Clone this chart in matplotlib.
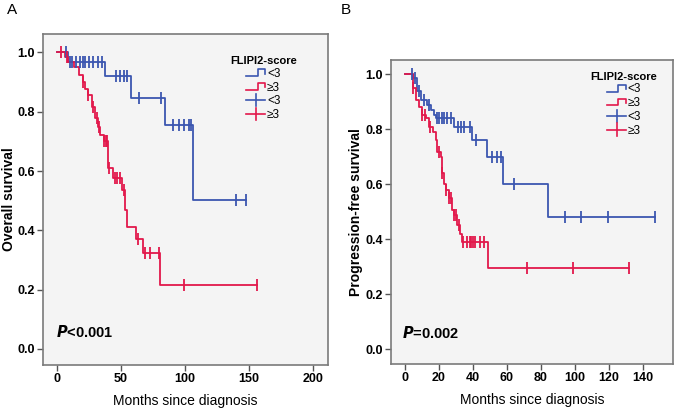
import numpy as np
import matplotlib
matplotlib.use("Agg")
import matplotlib.pyplot as plt
from matplotlib.lines import Line2D
from matplotlib.legend_handler import HandlerBase
from matplotlib import font_manager

# ---------------- data ----------------
# Panel A: Overall survival (step curves: event times and survival after the event)
a_low_t = [0, 8.5, 37.5, 58, 84, 106, 148]
a_low_s = [1.0, 0.968, 0.92, 0.846, 0.755, 0.503, 0.503]
a_low_cens = [7, 10, 12, 15, 18, 20, 22, 25, 28, 32, 35, 46, 49, 52, 55, 64, 81, 91, 95, 99, 103, 105, 140, 147.5]

a_high_t = [0, 6, 9, 13, 17, 20, 22, 24, 27, 30, 32, 34, 37, 40, 44, 51, 53, 54.5, 62, 67, 80.5, 156]
a_high_s = [1.0, 0.985, 0.968, 0.95, 0.925, 0.9, 0.875, 0.855, 0.815, 0.78, 0.75, 0.72, 0.70, 0.61, 0.577, 0.536, 0.47, 0.41, 0.37, 0.324, 0.216, 0.216]
a_high_cens = [3, 8, 20, 24, 28, 31, 33, 37, 38, 39, 41, 45, 47, 49, 52, 63, 69, 73, 80, 99, 156]

# Panel B: Progression-free survival
b_low_t = [0, 3.5, 5, 7, 9.4, 13, 15.3, 17, 18.2, 28.8, 39.5, 48, 57.6, 84, 147]
b_low_s = [1.0, 1.0, 0.985, 0.94, 0.905, 0.887, 0.87, 0.85, 0.84, 0.807, 0.76, 0.698, 0.60, 0.48, 0.48]
b_low_cens = [4, 6, 8, 11, 14, 19, 20, 22, 23, 25, 27, 31, 33, 35, 38, 42, 51, 54, 56.5, 64, 94, 103.5, 119.4, 147]

b_high_t = [0, 4.7, 6.5, 8.2, 10, 12.4, 14, 16.5, 18.2, 19, 21, 21.8, 23, 24, 26, 27.6, 29, 30.6, 32.4, 33.5, 49, 132]
b_high_s = [1.0, 0.95, 0.905, 0.88, 0.85, 0.84, 0.807, 0.79, 0.76, 0.716, 0.698, 0.64, 0.60, 0.578, 0.55, 0.505, 0.487, 0.45, 0.42, 0.39, 0.293, 0.293]
b_high_cens = [5, 10, 12, 15, 20, 22, 24, 26, 27, 29, 30, 32, 34, 36.5, 38, 39, 40, 41, 44, 46.5, 72, 99, 132]

a_xticks = [0, 50, 100, 150, 200]
b_xticks = [0, 20, 40, 60, 80, 100, 120, 140]
y_ticks = [0.0, 0.2, 0.4, 0.6, 0.8, 1.0]
legend_labels = ["<3", "\u22653", "<3", "\u22653"]

BLUE = "#3b56b0"
RED = "#e2184b"

names = {f.name for f in font_manager.fontManager.ttflist}
NARROW = "Liberation Sans Narrow" if "Liberation Sans Narrow" in names else "Liberation Sans"
FAM = [NARROW, "DejaVu Sans"]
FAM2 = ["Liberation Sans", "DejaVu Sans"]


class StepHandler(HandlerBase):
    def create_artists(self, legend, orig_handle, xdescent, ydescent, width, height, fontsize, trans):
        x0, x1 = -xdescent, -xdescent + width
        y0, y1 = -ydescent + height * 0.1, -ydescent + height * 0.9
        xm = x0 + width * 0.6
        xs = [x0, xm, xm, x1, x1]
        ys = [y0, y0, y1, y1, y0 + (y1 - y0) * 0.35]
        ln = Line2D(xs, ys, color=orig_handle.get_color(), lw=1.2, transform=trans)
        return [ln]


class CrossHandler(HandlerBase):
    def create_artists(self, legend, orig_handle, xdescent, ydescent, width, height, fontsize, trans):
        x0, x1 = -xdescent, -xdescent + width
        yc = -ydescent + height / 2
        xc = (x0 + x1) / 2
        h = Line2D([x0, x1], [yc, yc], color=orig_handle.get_color(), lw=1.2, transform=trans)
        v = Line2D([xc, xc], [yc - height * 0.75, yc + height * 0.75], color=orig_handle.get_color(), lw=1.2, transform=trans)
        return [h, v]


def step_value(t, s, x):
    idx = np.searchsorted(np.asarray(t), x, side="right") - 1
    return np.asarray(s)[idx]


def draw_curve(ax, t, s, cens, color):
    ax.step(t, s, where="post", color=color, lw=1.3, zorder=3)
    cy = step_value(t, s, np.asarray(cens))
    ax.plot(cens, cy, linestyle="none", marker="|", markersize=8, mew=1.3, color=color, zorder=4)


fig = plt.figure(figsize=(6.78, 4.17), dpi=100)
fig.patch.set_facecolor("white")

axA = fig.add_axes([43 / 678, 1 - 365 / 417, 285 / 678, 331 / 417])
axB = fig.add_axes([391 / 678, 1 - 364 / 417, 282 / 678, 304 / 417])

draw_curve(axA, a_low_t, a_low_s, a_low_cens, BLUE)
draw_curve(axA, a_high_t, a_high_s, a_high_cens, RED)
draw_curve(axB, b_low_t, b_low_s, b_low_cens, BLUE)
draw_curve(axB, b_high_t, b_high_s, b_high_cens, RED)

axA.set_xlim(-10.9, 211.7)
axA.set_ylim(-0.054, 1.062)
axB.set_xlim(-8.2, 157.6)
axB.set_ylim(-0.0545, 1.051)

setup = [
    (axA, a_xticks, "Overall survival", -0.093, (0.915, 0.955)),
    (axB, b_xticks, "Progression-free survival", -0.101, (0.97, 0.985)),
]
for ax, xt, ylabel, ylx, anchor in setup:
    ax.set_facecolor("#f4f4f4")
    ax.set_xticks(xt)
    ax.set_yticks(y_ticks)
    ax.set_xticklabels([str(v) for v in xt], fontfamily=FAM, fontweight="bold", fontsize=9)
    ax.set_yticklabels(["%.1f" % v for v in y_ticks], fontfamily=FAM, fontweight="bold", fontsize=9)
    ax.tick_params(length=4, width=1, color="#555555", pad=2)
    for sp in ax.spines.values():
        sp.set_color("#7a7a7a")
        sp.set_linewidth(1.2)
    ax.set_xlabel("Months since diagnosis", fontfamily=FAM2, fontsize=10, labelpad=6)
    ax.set_ylabel(ylabel, fontfamily=FAM2, fontweight="bold", fontsize=10)
    ax.yaxis.set_label_coords(ylx, 0.5)
    handles = [Line2D([], [], color=BLUE), Line2D([], [], color=RED),
               Line2D([], [], color=BLUE, marker="+"), Line2D([], [], color=RED, marker="+")]
    hmap = {handles[0]: StepHandler(), handles[1]: StepHandler(),
            handles[2]: CrossHandler(), handles[3]: CrossHandler()}
    leg = ax.legend(handles, legend_labels, handler_map=hmap, loc="upper right",
                    bbox_to_anchor=anchor, frameon=False, title="FLIPI2-score",
                    prop={"family": FAM, "size": 8.5}, handlelength=1.6, handleheight=0.7,
                    handletextpad=0.15, labelspacing=0.15, borderaxespad=0.2)
    leg.get_title().set_fontfamily(FAM)
    leg.get_title().set_fontweight("bold")
    leg.get_title().set_fontsize(8)
    leg._legend_box.align = "center"

axA.text(0.045, 0.085, r"$\boldsymbol{P}$<0.001", transform=axA.transAxes, fontfamily=FAM2, fontsize=10.5, fontweight="bold")
axB.text(0.04, 0.085, r"$\boldsymbol{P}$=0.002", transform=axB.transAxes, fontfamily=FAM2, fontsize=10.5, fontweight="bold")

fig.text(12 / 678, 1 - 10 / 417, "A", fontfamily=FAM2, fontsize=11, va="center", ha="center")
fig.text(346 / 678, 1 - 10 / 417, "B", fontfamily=FAM2, fontsize=11, va="center", ha="center")

fig.savefig("out.png", dpi=100, facecolor="white")
